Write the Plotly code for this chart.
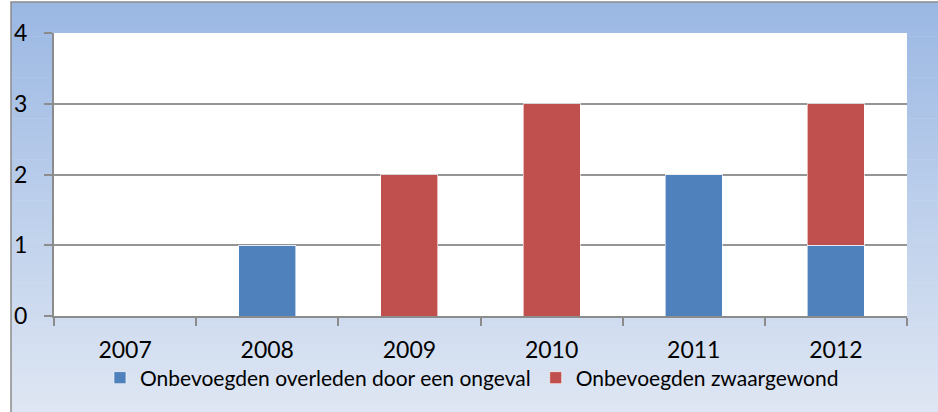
import plotly.graph_objects as go

jaren = ['2007', '2008', '2009', '2010', '2011', '2012']
overleden = [0, 1, 0, 0, 2, 1]
zwaargewond = [0, 0, 2, 3, 0, 2]

W, H = 938, 412
ml, mr, mt, mb = 54, 31, 33, 96
pw = W - ml - mr
ph = H - mt - mb


def px_x(x):
    return (x - ml) / pw


def px_y(y):
    return (H - mb - y) / ph


fig = go.Figure()

fig.add_trace(go.Bar(x=jaren, y=overleden, name='Onbevoegden overleden door een ongeval',
                     marker=dict(color='#4f81bd', line=dict(color='rgba(255,255,255,0.6)', width=1))))
fig.add_trace(go.Bar(x=jaren, y=zwaargewond, name='Onbevoegden zwaargewond',
                     marker=dict(color='#c0504d', line=dict(color='rgba(255,255,255,0.6)', width=1))))

# achtergrond: verloop van blauw (boven) naar lichtblauw (onder)
top = (155, 184, 227)
bot = (222, 230, 243)
shapes = []
n = 60
y0, y1 = 2, H
for i in range(n):
    t = i / (n - 1)
    c = tuple(round(top[k] + (bot[k] - top[k]) * t) for k in range(3))
    ya = y0 + (y1 - y0) * i / n
    yb = y0 + (y1 - y0) * (i + 1) / n + 0.6
    shapes.append(dict(type='rect', xref='paper', yref='paper', layer='below',
                       x0=px_x(11), x1=px_x(W + 2), y0=px_y(yb), y1=px_y(ya),
                       fillcolor='rgb(%d,%d,%d)' % c, line=dict(width=0)))
# rand van het kader
shapes.append(dict(type='rect', xref='paper', yref='paper', layer='below',
                   x0=px_x(11), x1=px_x(W + 5), y0=px_y(H + 5), y1=px_y(2),
                   fillcolor='rgba(0,0,0,0)', line=dict(color='#8c8c8c', width=1.5)))
# wit plotvlak
shapes.append(dict(type='rect', xref='paper', yref='paper', layer='below',
                   x0=0, x1=1, y0=0, y1=1, fillcolor='white', line=dict(width=0)))

fig.update_layout(
    width=W, height=H,
    margin=dict(l=ml, r=mr, t=mt, b=mb),
    barmode='stack', bargap=0.6,
    paper_bgcolor='white', plot_bgcolor='rgba(0,0,0,0)',
    font=dict(family='Lato, Open Sans, sans-serif', color='black'),
    shapes=shapes,
    showlegend=True,
    legend=dict(orientation='h', x=0.49, xanchor='center', y=px_y(378), yanchor='middle',
                traceorder='normal', font=dict(size=21), bgcolor='rgba(0,0,0,0)',
                itemwidth=30),
)

fig.update_xaxes(type='category', tickson='boundaries', ticks='outside', ticklen=8,
                 tickcolor='#8c8c8c', tickwidth=2, showline=True, linecolor='#8c8c8c',
                 linewidth=2, showgrid=False, tickfont=dict(size=23), ticklabelstandoff=12)
fig.update_yaxes(range=[0, 4], dtick=1, ticks='outside', ticklen=8, tickcolor='#8c8c8c',
                 tickwidth=2, showline=True, linecolor='#8c8c8c', linewidth=2,
                 gridcolor='#959595', gridwidth=2, zeroline=False,
                 tickfont=dict(size=23), ticklabelstandoff=12)

fig.write_html("out.html", config={'displayModeBar': False},
               post_script="document.body.style.margin='0';")
